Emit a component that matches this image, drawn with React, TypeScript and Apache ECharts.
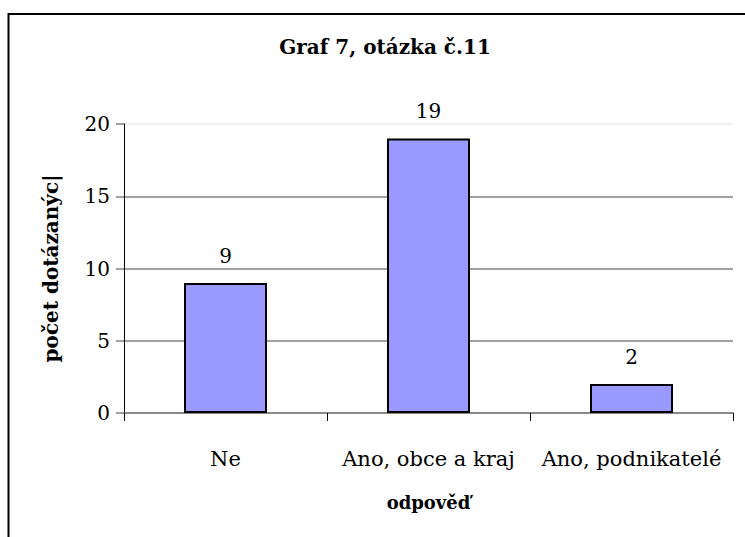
import React, { useEffect, useRef } from "react";
import * as echarts from "echarts";

const categories = ["Ne", "Ano, obce a kraj", "Ano, podnikatelé"];
const values = [9, 19, 2];
const titleText = "Graf 7, otázka č.11";
const yAxisName = "počet dotázanýc|";
const xAxisName = "odpověď";

const FONT = "DejaVu Serif";

export default function App() {
  const ref = useRef<HTMLDivElement>(null);
  useEffect(() => {
    if (!ref.current) return;
    const chart = echarts.init(ref.current, undefined, { renderer: "svg" });
    chart.setOption({
      animation: false,
      backgroundColor: "#ffffff",
      textStyle: { fontFamily: FONT },
      title: {
        text: titleText,
        left: 380,
        top: 32,
        textAlign: "center",
        textStyle: { fontFamily: FONT, fontWeight: "bold", fontSize: 20, color: "#000" },
      },
      graphic: [
        {
          type: "rect",
          shape: { x: 8.5, y: 14, width: 800, height: 600 },
          style: { fill: "none", stroke: "#000", lineWidth: 2 },
          silent: true,
        },
      ],
      grid: { left: 124, right: 12, top: 124, bottom: 124, containLabel: false },
      xAxis: {
        type: "category",
        data: categories,
        name: xAxisName,
        nameLocation: "middle",
        nameGap: 80,
        nameTextStyle: { fontFamily: FONT, fontWeight: "bold", fontSize: 18, color: "#000" },
        axisLine: { show: true, lineStyle: { color: "#808080", width: 1.5 } },
        axisTick: { show: true, length: 8, lineStyle: { color: "#000", width: 1 } },
        axisLabel: { fontFamily: FONT, fontSize: 21, color: "#000", margin: 35, interval: 0 },
      },
      yAxis: {
        type: "value",
        min: 0,
        max: 20,
        interval: 5,
        name: yAxisName,
        nameLocation: "middle",
        nameGap: 63,
        nameTextStyle: { fontFamily: FONT, fontWeight: "bold", fontSize: 20, color: "#000" },
        axisLine: { show: true, lineStyle: { color: "#000", width: 1 } },
        axisTick: { show: true, length: 8, lineStyle: { color: "#808080", width: 1.5 } },
        axisLabel: { fontFamily: FONT, fontSize: 20, color: "#000", margin: 14 },
        splitLine: {
          show: true,
          lineStyle: { color: ["#808080", "#808080", "#808080", "#808080", "#ebebeb"], width: 1.5 },
        },
      },
      series: [
        {
          type: "bar",
          data: values,
          barWidth: 83,
          itemStyle: { color: "#9999ff", borderColor: "#000", borderWidth: 2 },
          label: {
            show: true,
            position: "top",
            distance: 17,
            fontFamily: FONT,
            fontSize: 20,
            color: "#000",
          },
        },
      ],
    });
    return () => chart.dispose();
  }, []);
  return (
    <div
      ref={ref}
      style={{ position: "fixed", left: 0, top: 0, width: 745, height: 537, background: "#fff" }}
    />
  );
}
